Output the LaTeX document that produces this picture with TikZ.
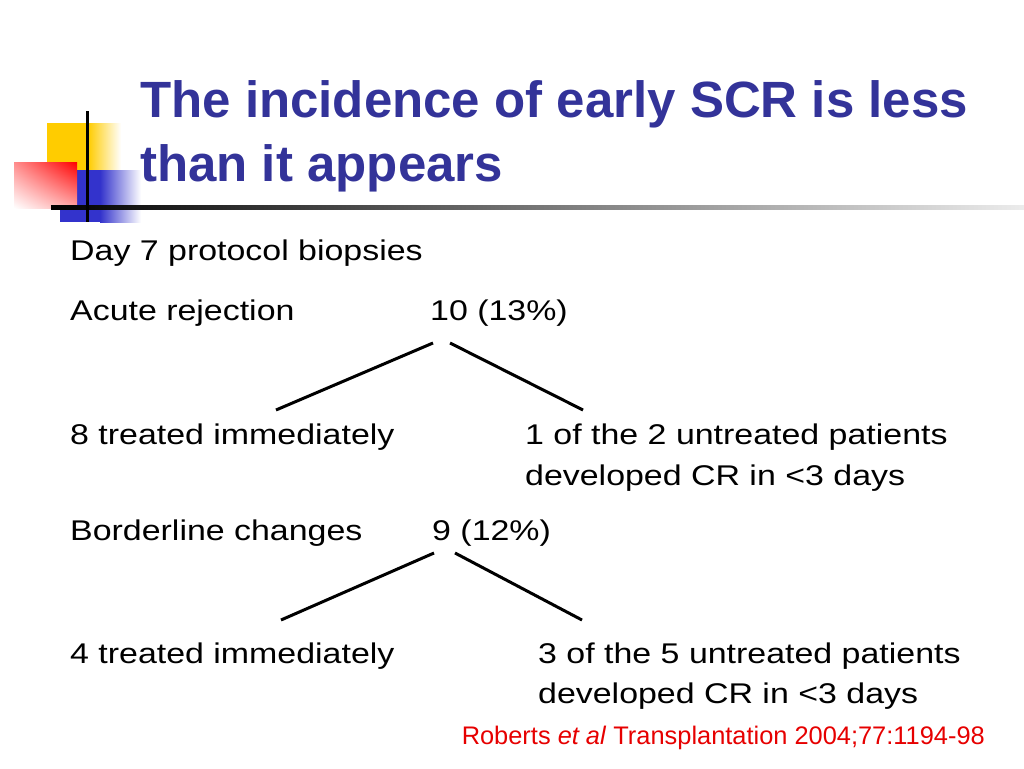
\documentclass[tikz,border=0pt]{standalone}
\usepackage{fontspec}
\setmainfont{Liberation Sans}
\newfontfamily\bodyfont[FakeStretch=1.19]{Liberation Sans}
\usetikzlibrary{positioning,shadings}
\definecolor{titleblue}{RGB}{51,51,153}
\definecolor{boxyellow}{RGB}{255,204,0}
\definecolor{boxblue}{RGB}{51,51,204}
\definecolor{citered}{RGB}{230,0,0}
\tikzset{
  heading/.style={anchor=base west,inner sep=0pt,text=titleblue,font=\bfseries\fontsize{51}{60}\selectfont},
  txt/.style={anchor=base west,inner sep=0pt,font=\bodyfont\fontsize{28.5}{34}\selectfont},
  branch/.style={line width=3pt},
}
\begin{document}
\begin{tikzpicture}[x=1pt,y=-1pt]
    \useasboundingbox (0,0) rectangle (1024,768);
    %% Corner ornament
    \fill[boxyellow] (47,123) rectangle (88,170);
    \shade[left color=boxyellow,right color=white] (88,123) rectangle (121,170);
    \fill[boxblue] (60,170) rectangle (100,222);
    \shade[left color=boxblue,right color=white] (100,170) rectangle (141,222);
    \shade[upper left=red!45!white,upper right=red,lower left=white,lower right=red!35!white] (14,162) rectangle (77,208);
    \shade[left color=black,right color=gray!15] (51,205) rectangle (1024,209.5);
    \fill[black] (85.5,111) rectangle (88.5,222);
    %% Title
    \node[heading] (t1) at (140,117) {The incidence of early SCR is less};
    \node[heading] (t2) at (140,181) {than it appears};
    %% Acute rejection
    \node[txt] (day) at (70,260) {Day 7 protocol biopsies};
    \node[txt] (acute) at (70,320) {Acute rejection};
    \node[txt] (acn) at (430,320) {10 (13\%)};
    \node[txt] (acl) at (70,444) {8 treated immediately};
    \node[txt] (acr) at (525,444) {1 of the 2 untreated patients};
    \node[txt] (acr2) at (525,485) {developed CR in <3 days};
    \coordinate (a1) at (433,343);
    \coordinate (a2) at (276,410);
    \coordinate (a3) at (450,343);
    \coordinate (a4) at (583,410);
    \draw[branch] (a1) -- (a2);
    \draw[branch] (a3) -- (a4);
    %% Borderline changes
    \node[txt] (border) at (70,540) {Borderline changes};
    \node[txt] (bdn) at (432,540) {9 (12\%)};
    \node[txt] (bdl) at (70,663) {4 treated immediately};
    \node[txt] (bdr) at (538,663) {3 of the 5 untreated patients};
    \node[txt] (bdr2) at (538,703) {developed CR in <3 days};
    \coordinate (b1) at (434,553);
    \coordinate (b2) at (281,620);
    \coordinate (b3) at (455,553);
    \coordinate (b4) at (582,620);
    \draw[branch] (b1) -- (b2);
    \draw[branch] (b3) -- (b4);
    %% Reference
    \node[anchor=base east,inner sep=0pt,text=citered,font=\fontsize{25.4}{30}\selectfont] (cite) at (985,744) {Roberts \textit{et al} Transplantation 2004;77:1194-98};
\end{tikzpicture}
\end{document}
